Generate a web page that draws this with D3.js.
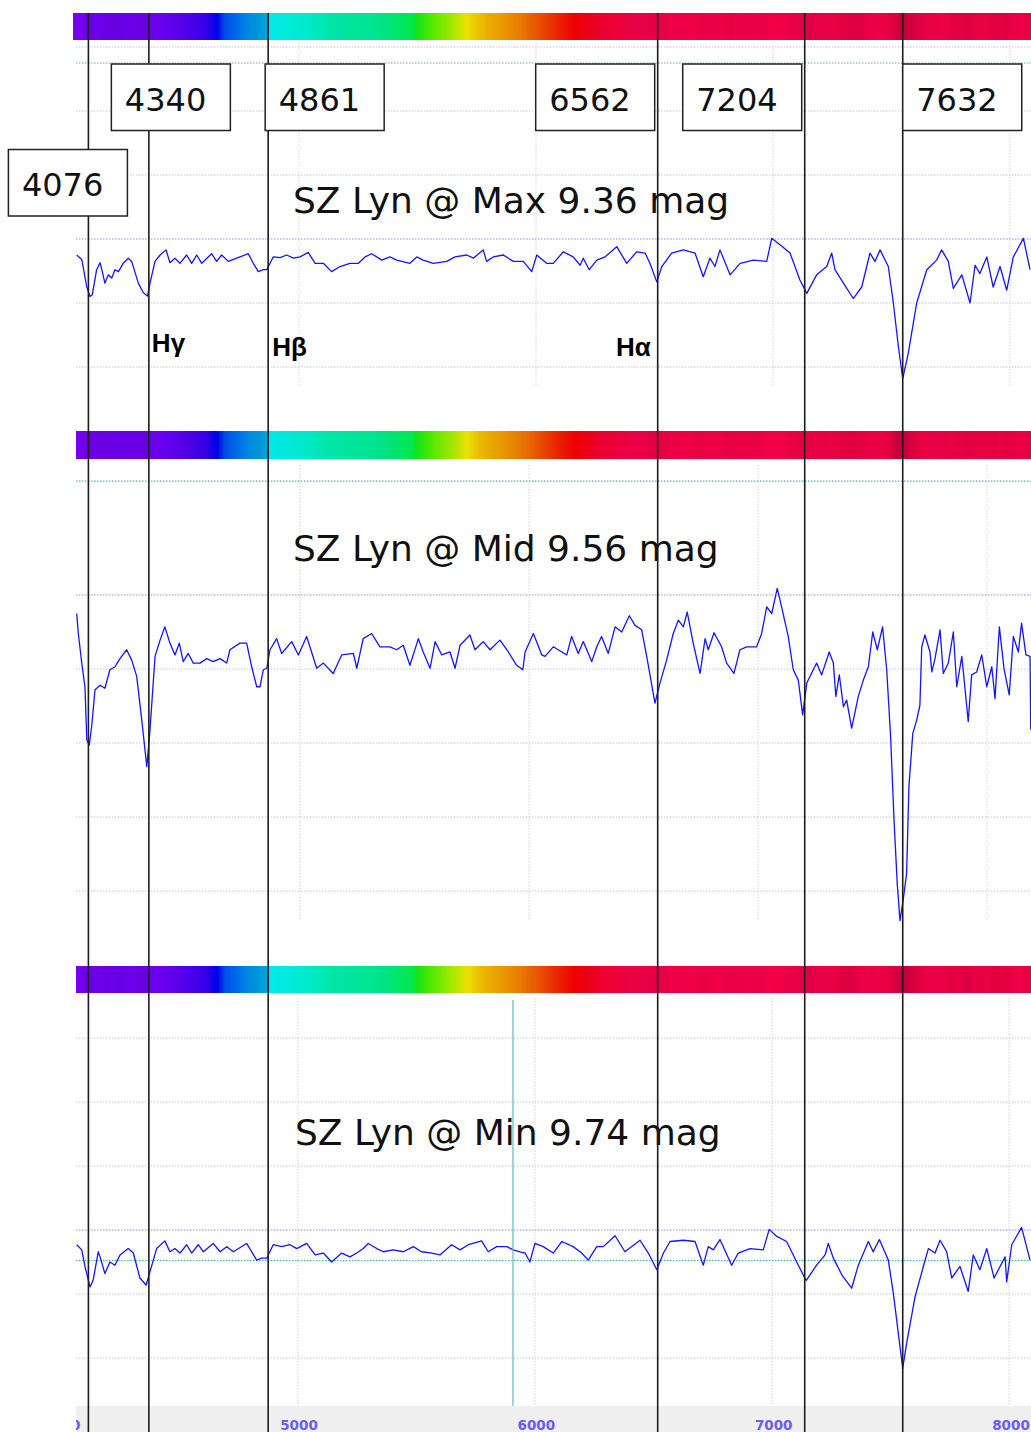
<!DOCTYPE html>
<html>
<head>
<meta charset="utf-8">
<script src="https://cdn.jsdelivr.net/npm/d3@7"></script>
<style>
body { margin: 0; background: #fff; }
svg { display: block; }
</style>
</head>
<body>
<div id="chart"></div>
<script>
const width = 1031, height = 1432;

// marked wavelengths (Angstrom)
const lineWaves = [4076, 4340, 4861, 6562, 7204, 7632];
const balmer = [
	{name: 'Hγ', wave: 4340},
	{name: 'Hβ', wave: 4861},
	{name: 'Hα', wave: 6562}
];
const axisTicks = [4000, 5000, 6000, 7000, 8000];
const gridWaves = [5000, 6000, 7000, 8000];
const titles = ['SZ Lyn @ Max 9.36 mag', 'SZ Lyn @ Mid 9.56 mag', 'SZ Lyn @ Min 9.74 mag'];
const gridFlux = [[1.3, 1.2, 1.1, 0.9, 0.8], [0.9, 0.8, 0.7, 0.6], [1.3, 1.2, 1.1, 0.9, 0.8]];
const refFlux = [1.0, 1.0, 1.0];
const cyanFlux = [1.275, 1.154, 0.952];
const cursorWave = 5930;

// colour strip stops
const barWaves = [3990, 4214, 4345, 4476, 4585, 4638, 4672, 4782, 4847, 4858, 4862, 5000, 5131, 5349, 5489, 5507, 5568, 5655, 5729, 5786, 5873, 5961, 6048, 6135, 6201, 6310, 6441, 6747, 8200];
const barColors = ['#7a00f8', '#6c00ee', '#7400f6', '#5c00f0', '#3a00f0', '#0000f0', '#0050f0', '#0090e8', '#00a8e0', '#00b0e0', '#00f0f0', '#00f0d8', '#00f0b0', '#00ea90', '#00f050', '#10ea20', '#50f000', '#a0f000', '#f0e800', '#f0c000', '#f0a000', '#f08000', '#f05000', '#f02000', '#f50000', '#f20030', '#f00045', '#f40048', '#f00045'];

// spectra: [wavelength, relative flux]
const maxSpec = [[4025,0.975],[4047,0.968],[4069,0.925],[4083,0.910],[4093,0.913],[4112,0.952],[4127,0.963],[4138,0.947],[4148,0.931],[4163,0.944],[4178,0.939],[4192,0.952],[4207,0.949],[4228,0.962],[4250,0.970],[4265,0.965],[4294,0.931],[4316,0.916],[4334,0.911],[4345,0.931],[4367,0.965],[4389,0.975],[4415,0.983],[4432,0.963],[4454,0.970],[4476,0.962],[4505,0.975],[4527,0.962],[4549,0.975],[4571,0.962],[4614,0.977],[4636,0.965],[4658,0.975],[4687,0.965],[4738,0.972],[4774,0.977],[4796,0.962],[4818,0.949],[4840,0.952],[4855,0.952],[4883,0.972],[4913,0.971],[4942,0.975],[4971,0.970],[5000,0.972],[5036,0.979],[5066,0.962],[5102,0.962],[5138,0.949],[5175,0.957],[5218,0.962],[5255,0.962],[5284,0.972],[5313,0.977],[5357,0.967],[5393,0.972],[5422,0.967],[5480,0.962],[5510,0.972],[5538,0.967],[5582,0.962],[5641,0.965],[5677,0.972],[5728,0.975],[5757,0.970],[5800,0.983],[5815,0.965],[5844,0.972],[5888,0.975],[5931,0.965],[5975,0.965],[6012,0.949],[6034,0.975],[6077,0.962],[6106,0.962],[6150,0.980],[6193,0.972],[6223,0.959],[6237,0.970],[6263,0.952],[6296,0.967],[6332,0.972],[6383,0.988],[6427,0.962],[6470,0.980],[6507,0.978],[6528,0.962],[6558,0.933],[6580,0.957],[6623,0.978],[6674,0.983],[6725,0.978],[6761,0.941],[6790,0.970],[6812,0.957],[6834,0.983],[6878,0.944],[6922,0.962],[6980,0.967],[7038,0.965],[7060,1.001],[7096,0.991],[7140,0.978],[7183,0.936],[7213,0.915],[7256,0.944],[7300,0.957],[7322,0.978],[7336,0.952],[7373,0.931],[7416,0.907],[7453,0.925],[7489,0.978],[7511,0.965],[7533,0.983],[7569,0.957],[7591,0.900],[7613,0.832],[7632,0.782],[7656,0.821],[7693,0.900],[7737,0.952],[7780,0.967],[7802,0.983],[7831,0.965],[7853,0.923],[7890,0.944],[7926,0.900],[7948,0.959],[7969,0.946],[7999,0.972],[8027,0.925],[8057,0.957],[8086,0.920],[8115,0.972],[8159,1.001],[8188,0.952]];

const midSpec = [[4025,0.975],[4032,0.948],[4047,0.908],[4061,0.876],[4069,0.804],[4080,0.797],[4090,0.822],[4105,0.872],[4127,0.878],[4148,0.874],[4170,0.899],[4192,0.903],[4214,0.914],[4243,0.926],[4265,0.912],[4287,0.890],[4309,0.831],[4331,0.768],[4345,0.818],[4367,0.917],[4389,0.939],[4410,0.957],[4432,0.935],[4454,0.919],[4473,0.935],[4490,0.910],[4512,0.921],[4534,0.908],[4563,0.908],[4593,0.914],[4621,0.910],[4651,0.914],[4680,0.908],[4694,0.926],[4738,0.935],[4767,0.935],[4789,0.903],[4811,0.876],[4825,0.876],[4840,0.899],[4855,0.901],[4869,0.926],[4898,0.941],[4920,0.921],[4964,0.937],[4993,0.919],[5029,0.944],[5073,0.901],[5102,0.908],[5145,0.894],[5182,0.919],[5233,0.921],[5248,0.901],[5276,0.941],[5313,0.948],[5349,0.930],[5393,0.930],[5422,0.926],[5451,0.932],[5480,0.905],[5517,0.941],[5538,0.923],[5568,0.901],[5590,0.937],[5619,0.919],[5655,0.923],[5677,0.901],[5699,0.932],[5742,0.946],[5764,0.926],[5800,0.937],[5830,0.926],[5873,0.939],[5910,0.923],[5946,0.905],[5973,0.899],[5983,0.923],[6019,0.948],[6056,0.919],[6070,0.917],[6106,0.930],[6165,0.919],[6186,0.944],[6215,0.921],[6237,0.937],[6274,0.910],[6296,0.930],[6317,0.944],[6346,0.921],[6376,0.957],[6405,0.950],[6438,0.972],[6463,0.959],[6492,0.953],[6514,0.917],[6550,0.854],[6572,0.881],[6601,0.912],[6630,0.948],[6652,0.966],[6674,0.957],[6691,0.977],[6717,0.935],[6747,0.894],[6769,0.941],[6783,0.926],[6808,0.949],[6841,0.930],[6863,0.908],[6895,0.894],[6921,0.926],[6951,0.930],[6994,0.930],[7016,0.948],[7038,0.984],[7060,0.975],[7084,1.009],[7103,0.984],[7132,0.944],[7154,0.899],[7176,0.885],[7195,0.838],[7213,0.881],[7256,0.908],[7278,0.892],[7311,0.923],[7329,0.908],[7340,0.863],[7355,0.892],[7373,0.849],[7387,0.858],[7409,0.820],[7438,0.863],[7460,0.885],[7482,0.903],[7501,0.950],[7521,0.926],[7544,0.957],[7562,0.899],[7579,0.809],[7594,0.696],[7608,0.610],[7620,0.560],[7634,0.588],[7649,0.624],[7659,0.741],[7676,0.813],[7693,0.831],[7707,0.851],[7715,0.930],[7729,0.946],[7751,0.923],[7759,0.896],[7773,0.914],[7795,0.953],[7809,0.894],[7831,0.908],[7853,0.950],[7868,0.876],[7890,0.917],[7918,0.829],[7933,0.892],[7955,0.896],[7977,0.919],[7999,0.876],[8021,0.903],[8035,0.860],[8054,0.957],[8074,0.901],[8097,0.865],[8115,0.944],[8137,0.923],[8151,0.962],[8170,0.919],[8188,0.917],[8191,0.818]];

const minSpec = [[4025,0.977],[4047,0.969],[4061,0.943],[4083,0.911],[4097,0.922],[4119,0.966],[4127,0.958],[4148,0.932],[4170,0.950],[4192,0.945],[4214,0.961],[4250,0.971],[4272,0.964],[4301,0.925],[4328,0.914],[4345,0.935],[4374,0.971],[4410,0.983],[4432,0.966],[4454,0.971],[4476,0.964],[4505,0.977],[4527,0.964],[4556,0.977],[4578,0.966],[4621,0.979],[4651,0.966],[4680,0.974],[4709,0.966],[4767,0.979],[4811,0.953],[4833,0.956],[4855,0.956],[4883,0.977],[4920,0.974],[4956,0.977],[4986,0.971],[5029,0.979],[5066,0.961],[5102,0.964],[5138,0.950],[5182,0.964],[5218,0.958],[5248,0.964],[5276,0.971],[5298,0.979],[5335,0.971],[5364,0.966],[5407,0.969],[5451,0.966],[5495,0.974],[5531,0.966],[5575,0.964],[5611,0.961],[5662,0.977],[5699,0.969],[5735,0.977],[5793,0.983],[5822,0.966],[5859,0.974],[5903,0.974],[5931,0.969],[5961,0.966],[5983,0.964],[6004,0.950],[6026,0.979],[6062,0.974],[6106,0.964],[6143,0.982],[6193,0.974],[6230,0.964],[6259,0.953],[6296,0.974],[6325,0.974],[6376,0.991],[6419,0.966],[6485,0.984],[6521,0.964],[6558,0.938],[6587,0.964],[6616,0.982],[6674,0.984],[6725,0.982],[6761,0.945],[6783,0.974],[6805,0.969],[6834,0.985],[6885,0.945],[6914,0.964],[6965,0.971],[7023,0.969],[7049,1.001],[7082,0.990],[7125,0.982],[7169,0.950],[7210,0.921],[7256,0.945],[7293,0.961],[7307,0.979],[7329,0.956],[7366,0.930],[7409,0.909],[7438,0.945],[7482,0.982],[7503,0.966],[7530,0.985],[7569,0.953],[7591,0.901],[7613,0.838],[7632,0.784],[7649,0.823],[7686,0.896],[7722,0.943],[7744,0.971],[7773,0.964],[7795,0.984],[7824,0.966],[7846,0.925],[7882,0.943],[7918,0.904],[7940,0.961],[7969,0.938],[7999,0.971],[8031,0.925],[8079,0.958],[8086,0.919],[8108,0.977],[8151,1.004],[8188,0.953]];

const spectra = [maxSpec, midSpec, minSpec];

// scales
const x = d3.scaleLinear().domain([4000, 8000]).range([71, 987]);
const xTick = d3.scaleLinear().domain([5000, 8000]).range([299, 1011]);
const barColor = d3.scaleLinear().domain(barWaves).range(barColors).interpolate(d3.interpolateRgb).clamp(true);

const panels = [
	{barTop: 13, barH: 27, barLeft: 73, gridTop: 42, gridBottom: 385,
		y: d3.scaleLinear().domain([0.8, 1.3]).range([367, 47]),
		xGrid: d3.scaleLinear().domain([5000, 8000]).range([299, 1010]),
		titleX: 293, titleY: 213},
	{barTop: 431, barH: 28, barLeft: 76, gridTop: 465, gridBottom: 920,
		y: d3.scaleLinear().domain([0.6, 1.0]).range([891, 595]),
		xGrid: x,
		titleX: 293, titleY: 561},
	{barTop: 966, barH: 27, barLeft: 76, gridTop: 998, gridBottom: 1406,
		y: d3.scaleLinear().domain([0.8, 1.3]).range([1358, 1038]),
		xGrid: d3.scaleLinear().domain([5000, 8000]).range([298, 1009]),
		titleX: 295, titleY: 1145}
];

const svg = d3.select('#chart').append('svg')
	.attr('width', width)
	.attr('height', height);

svg.append('rect').attr('width', width).attr('height', height).attr('fill', '#fff');

const bisect = d3.bisector(d => d[0]).left;
function fluxAt(spec, w) {
	let i = bisect(spec, w);
	if (i <= 0) return spec[0][1];
	if (i >= spec.length) return spec[spec.length - 1][1];
	let a = spec[i - 1], b = spec[i];
	return a[1] + (b[1] - a[1]) * (w - a[0]) / (b[0] - a[0]);
}

panels.forEach((p, i) => {
	const g = svg.append('g').attr('class', 'panel');
	const spec = spectra[i];
	const fmin = d3.min(spec, d => d[1]);

	// vertical grid
	g.selectAll('.vgrid')
		.data(gridWaves)
		.enter().append('line')
		.attr('x1', d => p.xGrid(d)).attr('x2', d => p.xGrid(d))
		.attr('y1', p.gridTop).attr('y2', p.gridBottom)
		.attr('stroke', '#d4d4d4')
		.attr('stroke-dasharray', '1.5,1.5');

	// horizontal grid
	g.selectAll('.hgrid')
		.data(gridFlux[i])
		.enter().append('line')
		.attr('x1', 76).attr('x2', width)
		.attr('y1', d => p.y(d)).attr('y2', d => p.y(d))
		.attr('stroke', '#c8c8c8')
		.attr('stroke-dasharray', '1.5,1.5');

	g.append('line')
		.attr('x1', 76).attr('x2', width)
		.attr('y1', p.y(refFlux[i])).attr('y2', p.y(refFlux[i]))
		.attr('stroke', '#8c8ce6')
		.attr('stroke-dasharray', '1.5,1.5');

	g.append('line')
		.attr('x1', 76).attr('x2', width)
		.attr('y1', p.y(cyanFlux[i])).attr('y2', p.y(cyanFlux[i]))
		.attr('stroke', '#4fb5b5')
		.attr('stroke-width', 1.2)
		.attr('stroke-dasharray', '1.5,1.5');

	// colour strip
	const cols = d3.range(p.barLeft, width);
	g.selectAll('.strip')
		.data(cols)
		.enter().append('rect')
		.attr('x', d => d)
		.attr('y', p.barTop)
		.attr('width', 1.2)
		.attr('height', p.barH)
		.attr('fill', d => {
			const w = x.invert(d + 0.5);
			const c = d3.rgb(barColor(w));
			const k = Math.max(0, Math.min(1, (fluxAt(spec, w) - fmin) / (1.0 - fmin)));
			const m = 0.8 + 0.2 * k;
			return d3.rgb(c.r * m, c.g * m, c.b * m).formatHex();
		});

	// spectrum
	const line = d3.line().x(d => x(d[0])).y(d => p.y(d[1]));
	g.append('path')
		.datum(spec)
		.attr('d', line)
		.attr('fill', 'none')
		.attr('stroke', '#1414ff')
		.attr('stroke-width', 1.3)
		.attr('stroke-linejoin', 'round');

	g.append('text')
		.attr('x', p.titleX).attr('y', p.titleY)
		.attr('font-family', 'DejaVu Sans, Verdana, sans-serif')
		.attr('font-size', 36)
		.attr('fill', '#111')
		.text(titles[i]);
});

// cursor line in the bottom panel
svg.append('line')
	.attr('x1', x(cursorWave)).attr('x2', x(cursorWave))
	.attr('y1', 1000).attr('y2', 1406)
	.attr('stroke', '#5fbcbc')
	.attr('stroke-width', 1.2);

// bottom axis strip
svg.append('rect')
	.attr('x', 76).attr('y', 1406)
	.attr('width', width - 76).attr('height', height - 1406)
	.attr('fill', '#efefef');

svg.append('clipPath').attr('id', 'axclip')
	.append('rect').attr('x', 76).attr('y', 1400).attr('width', width - 76).attr('height', 40);

svg.append('g')
	.attr('clip-path', 'url(#axclip)')
	.selectAll('text')
	.data(axisTicks)
	.enter().append('text')
	.attr('x', d => xTick(d))
	.attr('y', 1429.5)
	.attr('text-anchor', 'middle')
	.attr('font-family', 'DejaVu Sans, Verdana, sans-serif')
	.attr('font-weight', 'bold')
	.attr('font-size', 13.5)
	.attr('fill', '#6b5cf2')
	.text(d => d);

// marked lines
svg.selectAll('.mark')
	.data(lineWaves)
	.enter().append('line')
	.attr('x1', d => x(d)).attr('x2', d => x(d))
	.attr('y1', 13).attr('y2', height)
	.attr('stroke', '#1c1c1c')
	.attr('stroke-width', 1.6);

// balmer labels
const balmerDx = {'Hγ': 3, 'Hβ': 4, 'Hα': -7};
svg.selectAll('.balmer')
	.data(balmer)
	.enter().append('text')
	.attr('x', d => x(d.wave) + balmerDx[d.name])
	.attr('y', d => d.name === 'Hγ' ? 352 : 356)
	.attr('text-anchor', d => d.name === 'Hα' ? 'end' : 'start')
	.attr('font-family', 'Liberation Sans, Arial, sans-serif')
	.attr('font-weight', 'bold')
	.attr('font-size', 26)
	.attr('fill', '#000')
	.text(d => d.name);

// wavelength boxes
const boxDx = [-80, -37.5, -3, -122, -122, 0];
const boxTop = [149.5, 64, 64, 64, 64, 64];
const boxes = svg.selectAll('.box')
	.data(lineWaves)
	.enter().append('g')
	.attr('transform', (d, i) => `translate(${x(d) + boxDx[i]},${boxTop[i]})`);

boxes.append('rect')
	.attr('width', 119).attr('height', 66.5)
	.attr('fill', '#fff')
	.attr('stroke', '#222')
	.attr('stroke-width', 1.5);

boxes.append('text')
	.attr('x', 13.5).attr('y', 46.5)
	.attr('font-family', 'DejaVu Sans, Verdana, sans-serif')
	.attr('font-size', 32)
	.attr('fill', '#111')
	.text(d => d);
</script>
</body>
</html>
